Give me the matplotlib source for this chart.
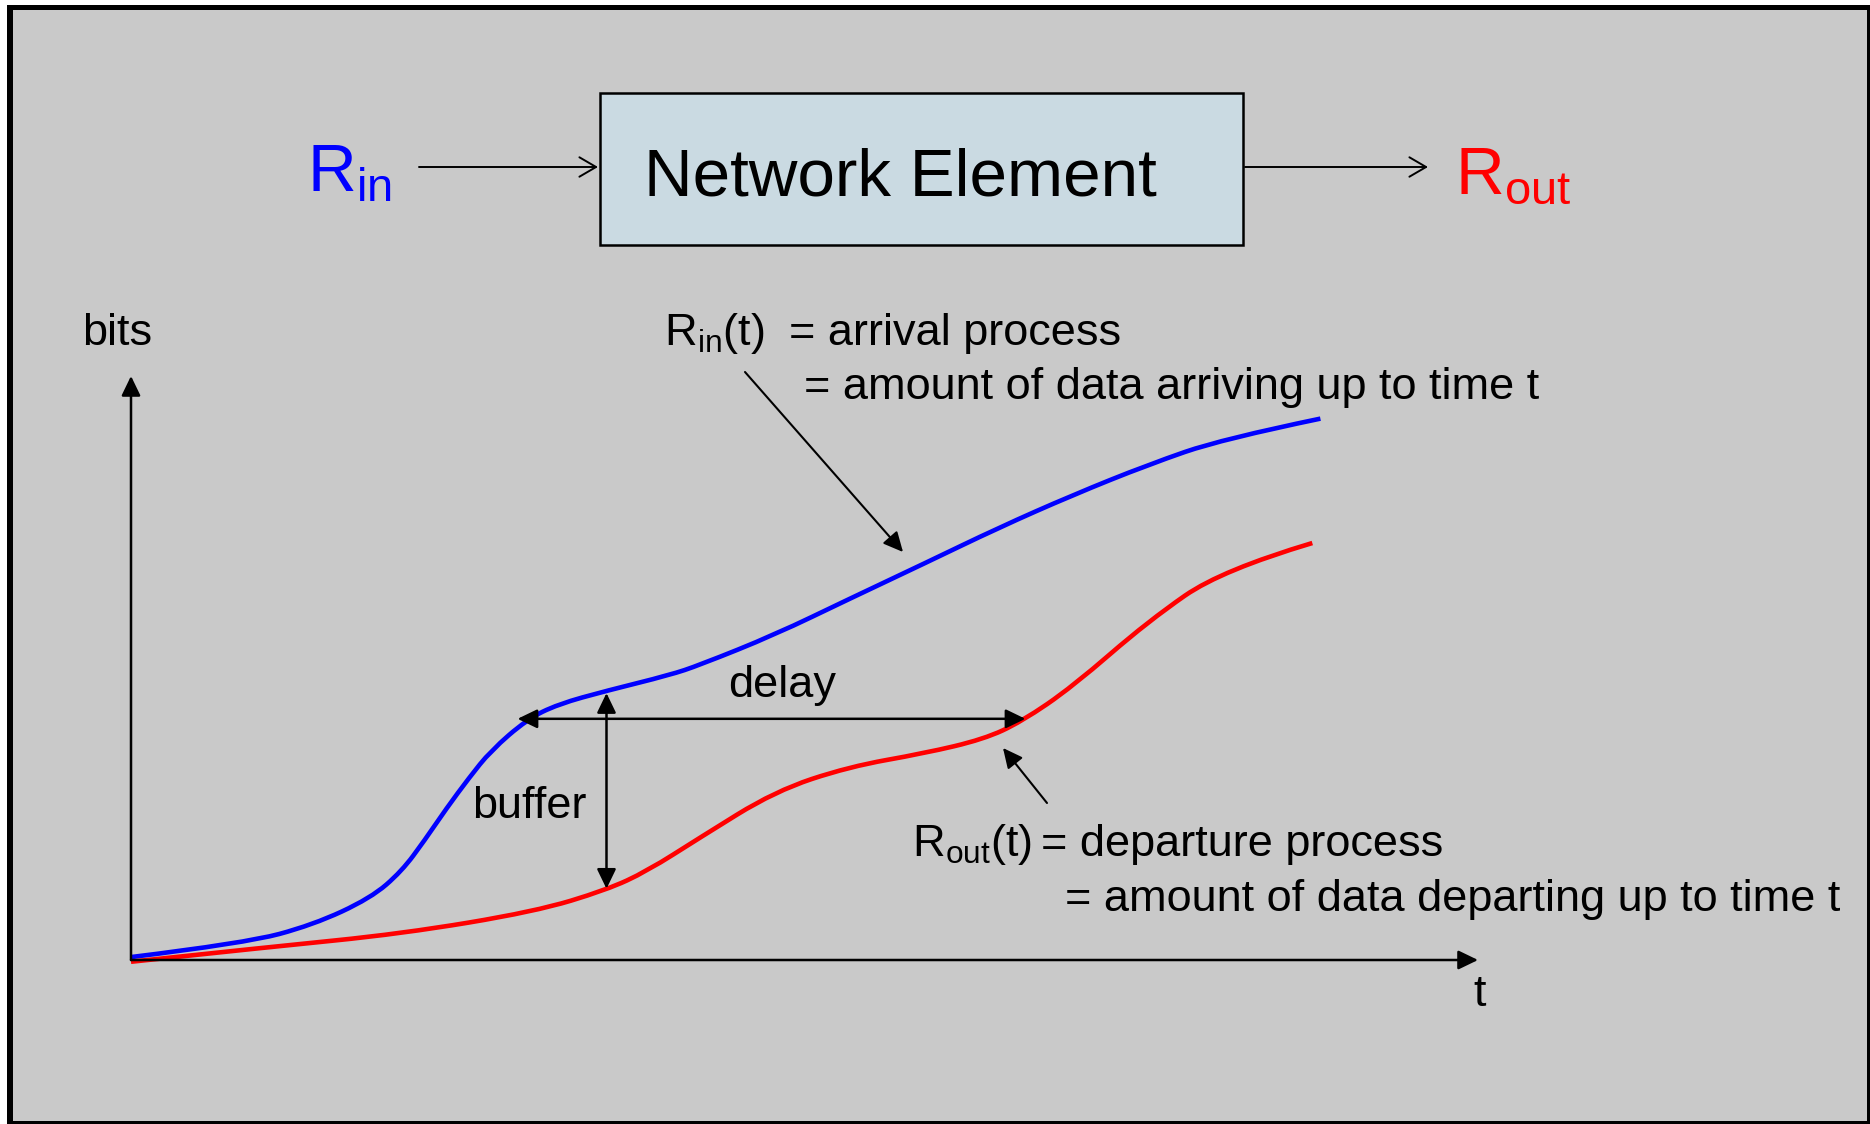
import numpy as np
import matplotlib.pyplot as plt
from matplotlib.patches import Rectangle, PathPatch
from matplotlib.path import Path

plt.rcParams['font.family'] = ['Liberation Sans', 'DejaVu Sans']
plt.rcParams['mathtext.fontset'] = 'custom'
plt.rcParams['mathtext.rm'] = 'Liberation Sans'

# arrival curve R_in(t): time (0..100 along t axis), bits (0..100 along bits axis)
rin_t = [0.0, 8.5, 13.5, 17.8, 20.1, 21.8, 23.4, 25.1, 26.7, 29.4, 31.7, 35.3,
         40.0, 42.2, 47.8, 53.3, 58.9, 64.4, 69.9, 75.5, 81.0, 88.3]
rin_bits = [0.5, 2.9, 6.0, 10.6, 15.2, 20.5, 25.9, 31.2, 35.8, 41.2, 43.8, 46.1,
            48.8, 50.5, 55.7, 61.8, 67.9, 74.0, 79.6, 84.8, 89.2, 92.7]

# departure curve R_out(t)
rout_t = [0.0, 10.2, 20.1, 30.0, 35.3, 38.3, 42.2, 47.8, 53.3, 58.9, 63.3, 66.1,
          69.9, 75.5, 81.0, 87.7]
rout_bits = [-0.3, 2.2, 4.5, 8.3, 12.0, 15.2, 20.9, 28.9, 33.1, 35.4, 37.8, 40.8,
             46.8, 58.0, 66.8, 71.4]

# delay / buffer markers (in the same time / bits units)
delay_bits = 41.3
delay_from, delay_to = 28.7, 66.4
buffer_t = 35.3
buffer_from, buffer_to = 12.2, 45.7

BG = '#C9C9C9'
W, H = 1870, 1124


def curve_path(x, y):
    # quadratic b-spline through the read points (smooth drawing)
    pts = np.column_stack([x, y])
    verts = [pts[0]]
    codes = [Path.MOVETO]
    for k in range(1, len(pts) - 1):
        end = pts[k + 1] if k == len(pts) - 2 else (pts[k] + pts[k + 1]) / 2
        verts += [pts[k], end]
        codes += [Path.CURVE3, Path.CURVE3]
    return Path(verts, codes)


fig = plt.figure(figsize=(W / 100, H / 100), dpi=100, facecolor='white')

# pixel-space canvas for frame, block diagram and labels
ax = fig.add_axes([0, 0, 1, 1])
ax.set_xlim(0, W)
ax.set_ylim(H, 0)
ax.axis('off')

ax.add_patch(Rectangle((7, 5), W - 7, H - 5, fc='black', ec='none'))
ax.add_patch(Rectangle((13, 10), 1854, 1111, fc=BG, ec='none'))

# network element block
ax.add_patch(Rectangle((600, 93), 643, 152, fc='#CADAE2', ec='black', lw=1.8))
ax.text(644, 195, 'Network Element', fontsize=48.5, va='baseline', ha='left')
ax.text(307, 191, r'$\mathregular{R_{in}}$', fontsize=48.5, color='#0000FF',
        va='baseline', ha='left')
ax.text(1455, 193, r'$\mathregular{R_{out}}$', fontsize=48.5, color='#FF0000',
        va='baseline', ha='left')

open_arrow = dict(arrowstyle='->,head_length=0.6,head_width=0.35', lw=1.4,
                  color='black', shrinkA=0, shrinkB=0, mutation_scale=20)
ax.annotate('', xy=(598, 167), xytext=(419, 167), arrowprops=open_arrow)
ax.annotate('', xy=(1428, 167), xytext=(1245, 167), arrowprops=open_arrow)

# labels
fs = 32.5
ax.text(82, 345, 'bits', fontsize=fs, va='baseline')
ax.text(1473, 1006, 't', fontsize=fs, va='baseline')
ax.text(728, 697, 'delay', fontsize=fs, va='baseline')
ax.text(472, 818, 'buffer', fontsize=fs, va='baseline')
ax.text(664, 345, r'$\mathregular{R_{in}(t)}$', fontsize=fs, va='baseline')
ax.text(789, 345, '= arrival process', fontsize=fs, va='baseline')
ax.text(804, 399, '= amount of data arriving up to time t', fontsize=fs, va='baseline')
ax.text(912, 856, r'$\mathregular{R_{out}(t)}$', fontsize=fs, va='baseline')
ax.text(1041, 856, '= departure process', fontsize=fs, va='baseline')
ax.text(1065, 911, '= amount of data departing up to time t', fontsize=fs, va='baseline')

solid_arrow = dict(arrowstyle='-|>,head_length=0.6,head_width=0.29', lw=1.5,
                   color='black', shrinkA=0, shrinkB=0, mutation_scale=20)
ax.annotate('', xy=(903, 552), xytext=(745, 372), arrowprops=solid_arrow)
ax.annotate('', xy=(1003, 748), xytext=(1047, 803), arrowprops=solid_arrow)

# the bits / time plot
ax_p = fig.add_axes([131 / W, (H - 960) / H, (1478 - 131) / W, (960 - 376) / H])
ax_p.set_xlim(0, 100)
ax_p.set_ylim(0, 100)
ax_p.axis('off')
ax_p.patch.set_alpha(0)

axis_arrow = dict(arrowstyle='-|>,head_length=0.6,head_width=0.29', lw=1.8,
                  color='black', shrinkA=0, shrinkB=0, mutation_scale=20)
ax_p.annotate('', xy=(0, 100), xytext=(0, 0), arrowprops=axis_arrow)
ax_p.annotate('', xy=(100, 0), xytext=(0, 0), arrowprops=axis_arrow)

ax_p.add_patch(PathPatch(curve_path(rin_t, rin_bits), fill=False, ec='#0000FF',
                         lw=3.3, capstyle='butt', clip_on=False))
ax_p.add_patch(PathPatch(curve_path(rout_t, rout_bits), fill=False, ec='#FF0000',
                         lw=3.3, capstyle='butt', clip_on=False))

dbl = dict(arrowstyle='<|-|>,head_length=0.6,head_width=0.29', lw=1.8,
           color='black', shrinkA=0, shrinkB=0, mutation_scale=20)
ax_p.annotate('', xy=(delay_to, delay_bits), xytext=(delay_from, delay_bits),
              arrowprops=dbl)
ax_p.annotate('', xy=(buffer_t, buffer_to), xytext=(buffer_t, buffer_from),
              arrowprops=dbl)

fig.savefig('out.png', dpi=100, facecolor='white')
